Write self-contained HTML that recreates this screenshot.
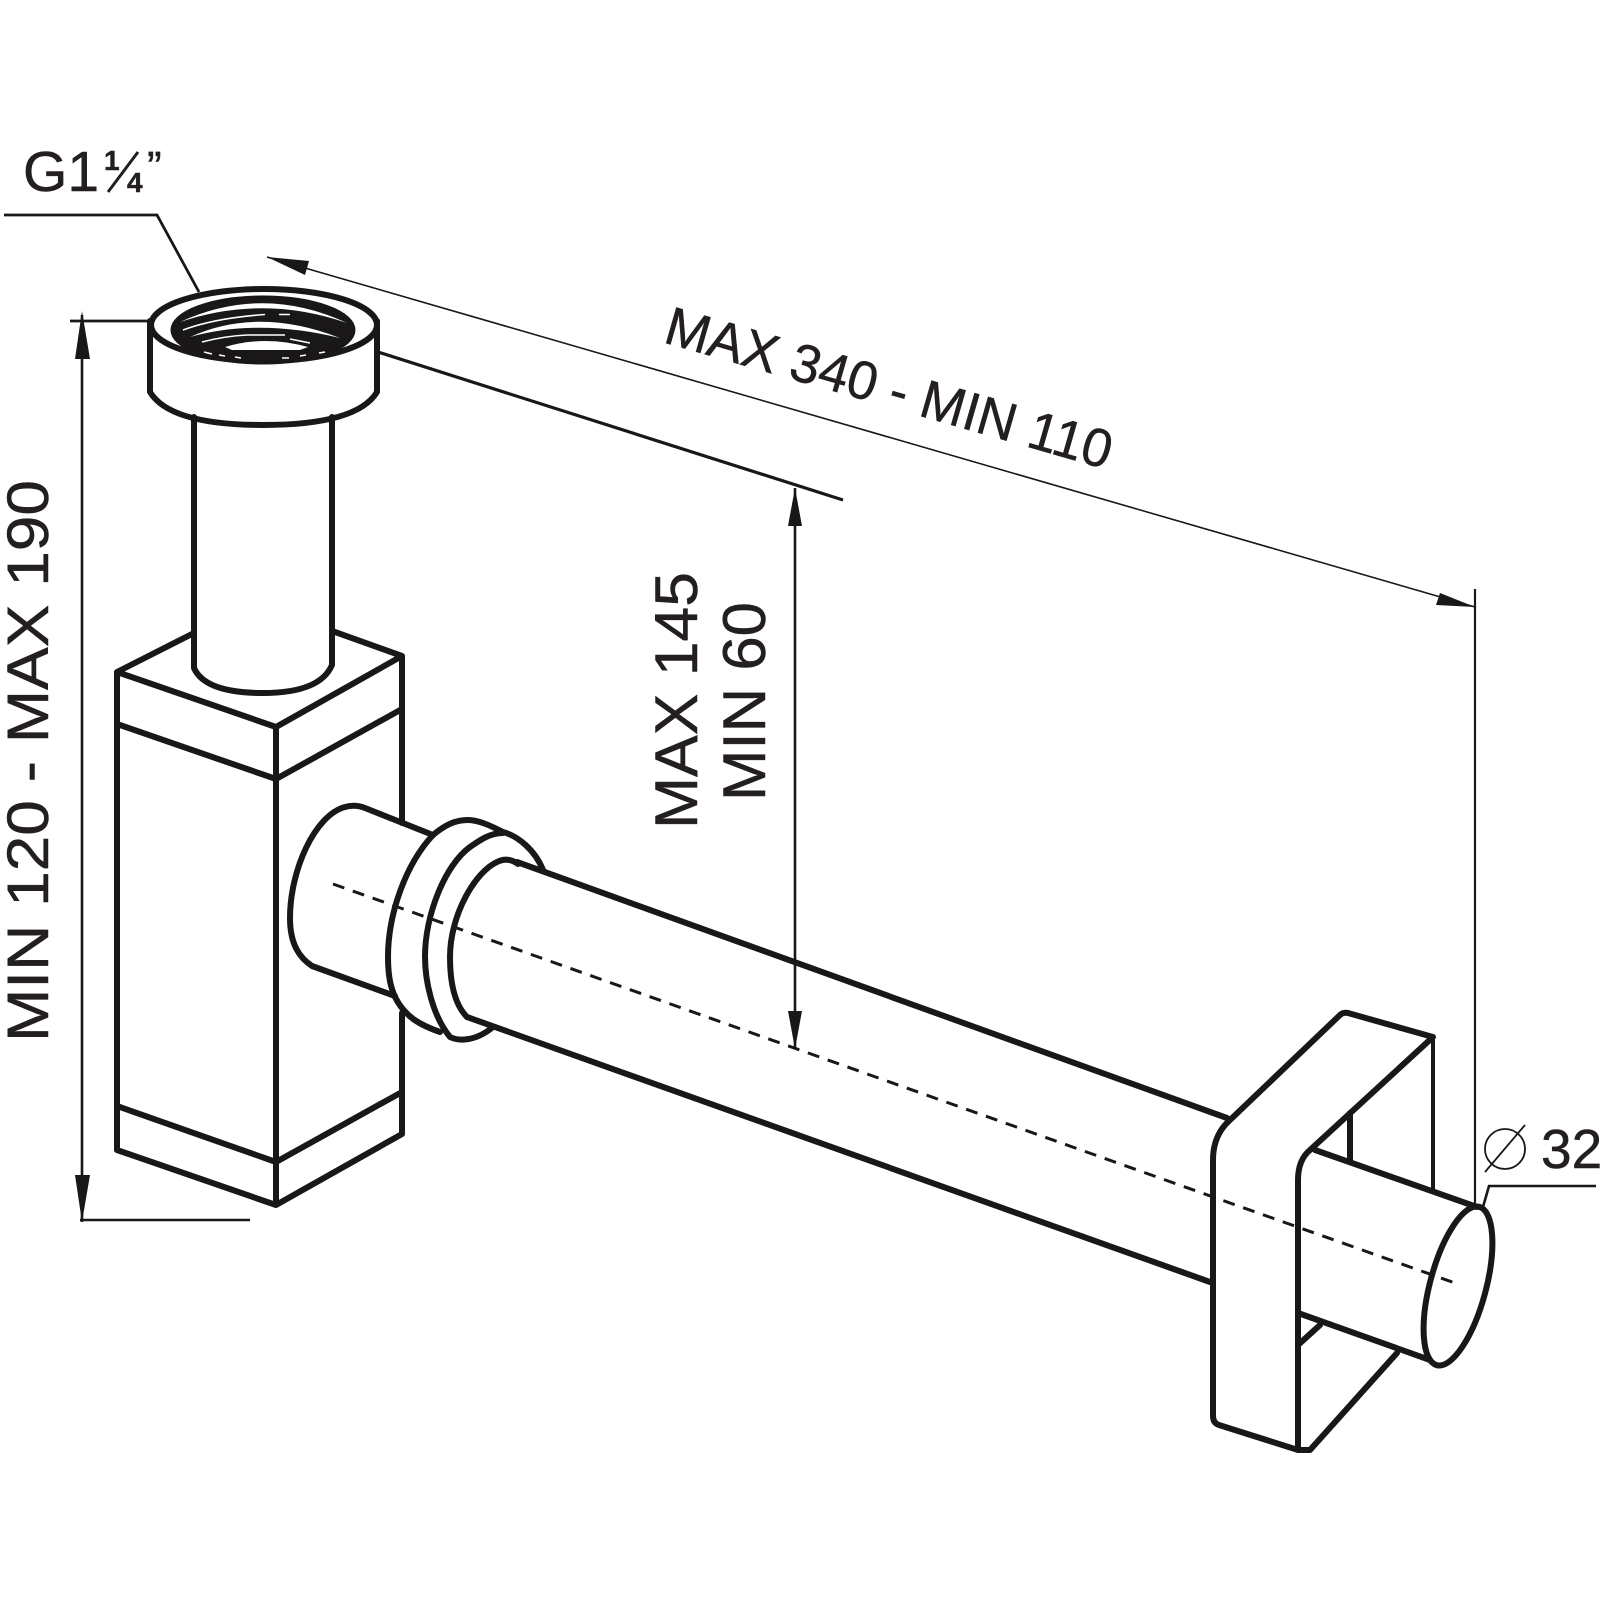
<!DOCTYPE html>
<html><head><meta charset="utf-8"><style>html,body{margin:0;padding:0;background:#fff}svg{display:block}text{font-family:"Liberation Sans",sans-serif;fill:#231f20;stroke:#231f20;stroke-width:.5}</style></head>
<body>
<svg width="1600" height="1600" viewBox="0 0 1600 1600" xmlns="http://www.w3.org/2000/svg">
<g fill="none" stroke="#1a1718" stroke-width="6" stroke-linejoin="round" stroke-linecap="round">
<!-- box -->
<path d="M117 672L192 634M335 632L402 656M117 672V1150L276 1205L402 1134V1013M402 823V656L276 727L117 672M117 724L276 779L402 709M117 1106L276 1162L402 1092M276 727V1205"/>
<!-- vertical pipe -->
<path d="M194 417V668Q205 693 263 693Q320 693 332 665V417"/>
<!-- ring -->
<path d="M150 321V392Q170 425 263 425Q357 425 377 392V321"/>
<ellipse cx="264" cy="325" rx="113" ry="36"/>
<ellipse cx="263" cy="330" rx="91" ry="33" fill="#1a1718" stroke-width="3"/>
<g fill="#fff" stroke="none">
<path d="M180 322Q263 284 347 323Q263 294 180 322Z"/>
<path d="M190 337Q258 306 340 338Q258 318 190 337Z"/>
<path d="M225 347Q265 335 308 347L300 350H232Z"/>
</g>
<g stroke="#fff" stroke-width="1.6" stroke-linecap="butt">
<path d="M183 330Q215 318 265 314.5M279 314.5H290"/>
<path d="M202 342Q225 336 247 335H285M290 339L310 343"/>
<path d="M204 352L212 354M219 355L225 356M235 357L241 358M282 358H289M300 356L306 355M319 353L325 352"/>
</g>
<!-- stub tube -->
<path d="M433 835L365 808Q355 804 345 807C315 815 290 870 290 918C290 945 300 958 312 966L395 996"/>
<!-- flange -->
<path d="M433 835C445 825 455 820 468 820C480 820 495 828 503 832C518 836 535 850 543 870"/>
<path d="M433 835C405 865 388 915 388 957C388 980 392 990 395 997C405 1017 420 1025 440 1032"/>
<path d="M503 833C490 833 480 840 470 847C445 865 425 915 425 957C425 980 432 1015 450 1037C458 1041 475 1042 493 1027"/>
<path d="M518 864C510 858 503 859 497 862C475 872 450 915 450 957C450 985 455 1005 467 1017"/>
<!-- long tube -->
<path d="M517 862L1227 1118M467 1017L1210 1282"/>
<!-- frame -->
<path d="M1230 1120L1340 1015Q1343 1012 1348 1013L1433 1037L1310 1150Q1298 1160 1298 1180V1450L1219 1425Q1213 1423 1213 1416V1160Q1213 1135 1230 1120Z"/>
<path d="M1298 1450H1310L1397 1353"/>
<path d="M1298 1345L1320 1325"/>
<path d="M1350 1113V1162" stroke-width="6"/>
<path d="M1433 1037V1190" stroke-width="4"/>
<!-- end tube -->
<path d="M1315 1150L1477 1207M1298 1313L1430 1360"/>
<ellipse cx="1458" cy="1286" rx="28" ry="82" transform="rotate(15 1458 1286)"/>
</g>
<!-- dashed centreline -->
<path d="M333 884L1455 1283" fill="none" stroke="#1a1718" stroke-width="3" stroke-dasharray="12 9"/>
<!-- dimensions -->
<g fill="none" stroke="#1a1718" stroke-width="2">
<path d="M4 215H157L199 292" stroke-width="2.8"/>
<path d="M70 321H150" stroke-width="2.8"/>
<path d="M82 315V1222" stroke-width="2.6"/>
<path d="M80 1220H250" stroke-width="2.6"/>
<path d="M267 257L1475 607" stroke-width="1.6"/>
<path d="M1475 589V1207" stroke-width="2.2"/>
<path d="M378 352L843 500" stroke-width="3.2"/>
<path d="M795 488V1049" stroke-width="2.6"/>
<path d="M1596 1186H1489L1483 1207" stroke-width="2.6"/>
<circle cx="1505" cy="1149" r="20" stroke-width="1.8"/>
<path d="M1485 1172L1525 1125" stroke-width="1.8"/>
</g>
<g fill="#1a1718">
<path d="M82 311L90 359H75Z"/>
<path d="M82 1222L90 1175H75Z"/>
<path d="M795 488L802 526H788Z"/>
<path d="M795 1049L802 1011H788Z"/>
<path d="M267 257L309 261L305 275Z"/>
<path d="M1475 607L1436 605L1440 593Z"/>
</g>
<!-- labels -->
<text x="23" y="191" font-size="57">G1</text>
<text x="104" y="170" font-size="28" font-weight="bold">1</text>
<path d="M108 192L138 152" stroke="#231f20" stroke-width="3"/>
<text x="127" y="192" font-size="28" font-weight="bold">4</text>
<text x="147" y="182" font-size="44">”</text>
<text transform="translate(662 342) rotate(16)" font-size="54" textLength="462" lengthAdjust="spacingAndGlyphs">MAX 340 - MIN 110</text>
<text transform="translate(48 1042) rotate(-90)" font-size="58" textLength="562" lengthAdjust="spacingAndGlyphs">MIN 120 - MAX 190</text>
<text transform="translate(697 829) rotate(-90)" font-size="60" textLength="257" lengthAdjust="spacingAndGlyphs">MAX 145</text>
<text transform="translate(765 801) rotate(-90)" font-size="60" textLength="199" lengthAdjust="spacingAndGlyphs">MIN 60</text>
<text x="1541" y="1168" font-size="55">32</text>
</svg>
</body></html>
